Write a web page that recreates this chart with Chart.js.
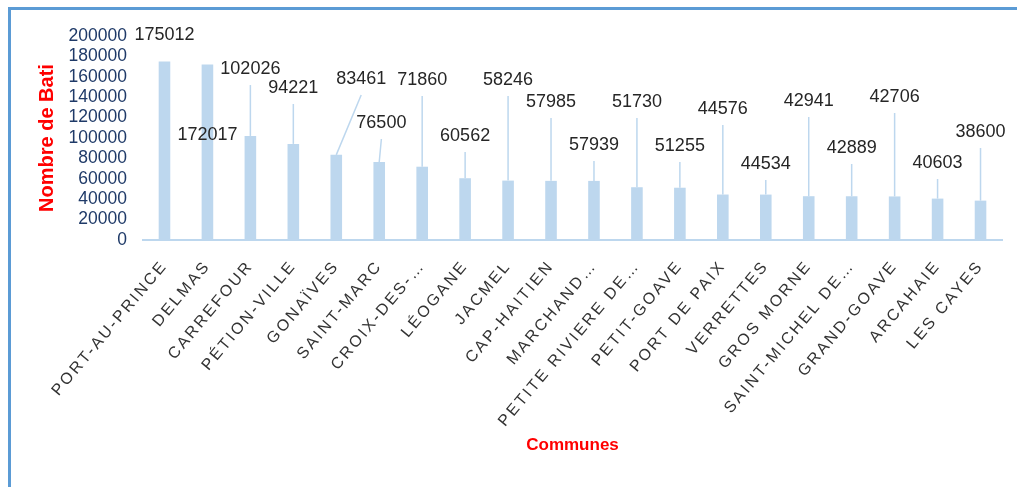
<!DOCTYPE html>
<html>
<head>
<meta charset="utf-8">
<script src="https://cdn.jsdelivr.net/npm/chart.js@4"></script>
<style>
  html, body { margin: 0; background: #fff; }
  #frame {
    position: absolute; left: 8px; top: 7px; width: 1200px; height: 700px;
    border-left: 3px solid #5B9BD5; border-top: 3px solid #5B9BD5;
  }
  #chart { position: absolute; left: 0; top: 0; }
</style>
</head>
<body>
<div id="frame"></div>
<canvas id="chart" width="1017" height="487"></canvas>
<script>
// Data
const communes = [
  "PORT-AU-PRINCE", "DELMAS", "CARREFOUR", "PÉTION-VILLE", "GONAÏVES",
  "SAINT-MARC", "CROIX-DES-…", "LÉOGANE", "JACMEL", "CAP-HAITIEN",
  "MARCHAND…", "PETITE RIVIERE DE…", "PETIT-GOAVE", "PORT DE PAIX", "VERRETTES",
  "GROS MORNE", "SAINT-MICHEL DE…", "GRAND-GOAVE", "ARCAHAIE", "LES CAYES"
];
const batiments = [
  175012, 172017, 102026, 94221, 83461,
  76500, 71860, 60562, 58246, 57985,
  57939, 51730, 51255, 44576, 44534,
  42941, 42889, 42706, 40603, 38600
];
const yMin = 0;
const yMax = 200000;
const yStep = 20000;

// where the value labels were dragged to (axis units) and sideways shift (in categories)
const labelHeights = [
  201000, 102900, 167600, 149000, 157800,
  114700, 156900, 102000, 156900, 135300,
  93100, 135300, 92200, 128400, 74500,
  136300, 90200, 140200, 75500, 105900
];
const labelShift = [0, 0, 0, 0, 0.58, 0.05, 0, 0, 0, 0, 0, 0, 0, 0, 0, 0, 0, 0, 0, 0];

Chart.defaults.font.family = '"Liberation Sans", Arial, sans-serif';

// value labels with leader lines, like Excel
const valueLabels = {
  id: "valueLabels",
  afterDatasetsDraw(chart) {
    const ctx = chart.ctx;
    const yScale = chart.scales.y;
    const bars = chart.getDatasetMeta(0).data;
    const step = bars[1].x - bars[0].x;
    ctx.save();
    ctx.font = '18px "Liberation Sans", Arial, sans-serif';
    ctx.textAlign = "center";
    ctx.textBaseline = "middle";
    bars.forEach((bar, i) => {
      const lx = bar.x + labelShift[i] * step;
      const ly = yScale.getPixelForValue(labelHeights[i]);
      if (bar.y - (ly + 16) > 12) {
        ctx.strokeStyle = "#BDD7EE";
        ctx.lineWidth = 1.5;
        ctx.beginPath();
        ctx.moveTo(lx, ly + 16);
        ctx.lineTo(bar.x, bar.y);
        ctx.stroke();
      }
      ctx.fillStyle = "#262626";
      ctx.fillText(String(batiments[i]), lx, ly);
    });
    ctx.restore();
  }
};

// spaced-out category labels
const spacedTicks = {
  id: "spacedTicks",
  beforeDraw(chart) {
    const xs = chart.scales.x;
    if (xs._spaced) return;
    const orig = xs.drawLabels.bind(xs);
    xs.drawLabels = function (area) {
      chart.ctx.save();
      chart.ctx.letterSpacing = "2.4px";
      orig(area);
      chart.ctx.restore();
    };
    xs._spaced = true;
  }
};

const ctx = document.getElementById("chart").getContext("2d");
const batiChart = new Chart(ctx, {
  type: "bar",
  data: {
    labels: communes,
    datasets: [{
      label: "Nombre de Bati",
      data: batiments,
      backgroundColor: "#BDD7EE",
      barPercentage: 0.27,
      categoryPercentage: 1
    }]
  },
  options: {
    responsive: false,
    animation: false,
    layout: { padding: { left: 20, top: 36, right: 15, bottom: 25 } },
    plugins: {
      legend: { display: false },
      tooltip: { enabled: false }
    },
    scales: {
      x: {
        grid: { display: false },
        border: { color: "#BDD7EE", width: 2 },
        ticks: {
          autoSkip: false,
          minRotation: 50,
          maxRotation: 50,
          padding: 9,
          color: "#333333",
          font: { size: 16 }
        },
        title: {
          display: true,
          text: "Communes",
          color: "#FF0000",
          font: { size: 17, weight: "bold" },
          padding: { top: 0, bottom: 6 }
        },
        afterFit(scale) { scale.height = 487 - 240 - 25; }
      },
      y: {
        min: yMin,
        max: yMax,
        grid: { display: false },
        border: { display: false },
        ticks: {
          stepSize: yStep,
          autoSkip: false,
          padding: 8,
          color: "#1F3A68",
          font: { size: 17.5 },
          callback: (value) => String(value)
        },
        title: {
          display: true,
          text: "Nombre de Bati",
          color: "#FF0000",
          font: { size: 20, weight: "bold" },
          padding: { top: 15, bottom: 0 }
        },
        afterFit(scale) { scale.width = 123; }
      }
    }
  },
  plugins: [valueLabels, spacedTicks]
});
</script>
</body>
</html>
